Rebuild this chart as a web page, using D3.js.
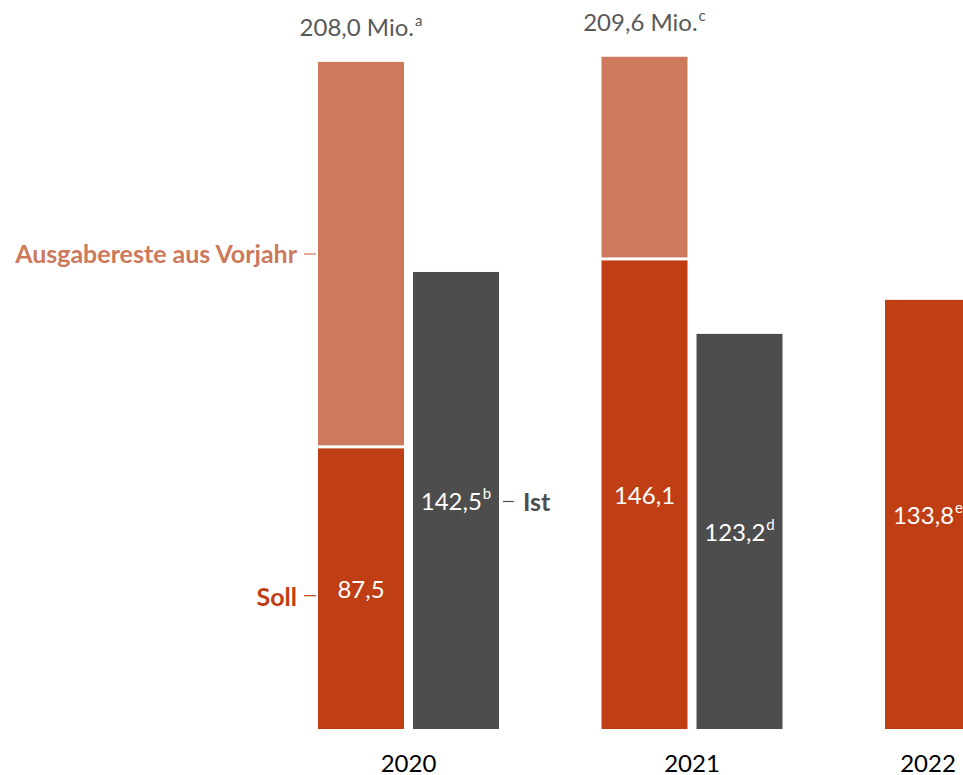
<!DOCTYPE html>
<html>
<head>
<meta charset="utf-8">
<script src="https://cdn.jsdelivr.net/npm/d3@7"></script>
<style>
    body { margin: 0; background: #fff; }
    svg { display: block; font-family: Lato, "Open Sans", sans-serif; }
</style>
</head>
<body>
<svg id="chart" width="963" height="775"></svg>
<script>
// values in Mio. Euro
let years = ["2020", "2021", "2022"];
let soll = [87.5, 146.1, 133.8];
let resteVorjahr = [120.5, 63.5, null];
let ist = [142.5, 123.2, null];
let sollLabels = ["87,5", "146,1", "133,8"];
let sollNotes = ["", "", "e"];
let istLabels = ["142,5", "123,2", null];
let istNotes = ["b", "d", null];
let totalLabels = ["208,0 Mio.", "209,6 Mio.", null];
let totalNotes = ["a", "c", null];

let colors = { soll: "#bf3e13", reste: "#cc795c", ist: "#4d4d4d" };

let svg = d3.select("#chart");
let baseline = 729;

let y = d3.scaleLinear()
    .domain([0, 227.3])
    .range([baseline, 0]);

let x = d3.scaleBand()
    .domain(years)
    .range([318, 318 + 283.5 * 3])
    .paddingInner(0);

let xInner = d3.scaleBand()
    .domain(["soll", "ist"])
    .range([0, 181])
    .paddingInner(0.095);

let bw = xInner.bandwidth();

// add a text with an optional superscript note
function addLabel(g, xPos, yPos, txt, note, color, size, anchor, weight) {
    let t = g.append("text")
        .attr("x", xPos)
        .attr("y", yPos)
        .attr("text-anchor", anchor || "middle")
        .attr("dominant-baseline", "central")
        .attr("fill", color)
        .style("font-size", size + "px")
        .style("font-weight", weight || "normal")
        .text(txt);
    if (note) {
        t.append("tspan")
            .attr("dx", 1)
            .attr("dy", -7)
            .style("font-size", Math.round(size * 0.62) + "px")
            .text(note);
    }
    return t;
}

let g = svg.append("g");

years.forEach(function(yr, i) {
    let xs = x(yr) + xInner("soll");
    let xi = x(yr) + xInner("ist");

    // Soll
    g.append("rect")
        .attr("x", xs)
        .attr("y", y(soll[i]))
        .attr("width", bw)
        .attr("height", baseline - y(soll[i]))
        .attr("fill", colors.soll);

    // Ausgabereste aus Vorjahr, stacked on Soll with a small white gap
    if (resteVorjahr[i] != null) {
        let top = y(soll[i] + resteVorjahr[i]);
        g.append("rect")
            .attr("x", xs)
            .attr("y", top)
            .attr("width", bw)
            .attr("height", y(soll[i]) - top - 3)
            .attr("fill", colors.reste);
        addLabel(g, xs + bw / 2, top - 35, totalLabels[i], totalNotes[i], "#595959", 24);
    }

    addLabel(g, xs + bw / 2, (y(soll[i]) + baseline) / 2, sollLabels[i], sollNotes[i], "#fff", 24);

    // Ist
    if (ist[i] != null) {
        g.append("rect")
            .attr("x", xi)
            .attr("y", y(ist[i]))
            .attr("width", bw)
            .attr("height", baseline - y(ist[i]))
            .attr("fill", colors.ist);
        addLabel(g, xi + bw / 2, (y(ist[i]) + baseline) / 2, istLabels[i], istNotes[i], "#fff", 24);
    }

    // year label centred under the bars of that year
    let right = ist[i] != null ? xi + bw : xs + bw;
    addLabel(g, (xs + right) / 2, 762, yr, null, "#000", 24);
});

// series labels with leader lines
let x0 = x(years[0]) + xInner("soll");
let xIst0 = x(years[0]) + xInner("ist");

g.append("line")
    .attr("x1", x0 - 14).attr("x2", x0 - 2)
    .attr("y1", 254).attr("y2", 254)
    .attr("stroke", colors.reste).attr("stroke-width", 1.2);
addLabel(g, x0 - 21, 253, "Ausgabereste aus Vorjahr", null, colors.reste, 25, "end", "bold");

let sollMid = (y(soll[0]) + baseline) / 2;
g.append("line")
    .attr("x1", x0 - 14).attr("x2", x0 - 2)
    .attr("y1", sollMid + 7).attr("y2", sollMid + 7)
    .attr("stroke", colors.soll).attr("stroke-width", 1.2);
addLabel(g, x0 - 21, sollMid + 7, "Soll", null, colors.soll, 25, "end", "bold");

let istMid = (y(ist[0]) + baseline) / 2;
g.append("line")
    .attr("x1", xIst0 + bw + 4).attr("x2", xIst0 + bw + 15)
    .attr("y1", istMid + 1).attr("y2", istMid + 1)
    .attr("stroke", colors.ist).attr("stroke-width", 1.2);
addLabel(g, xIst0 + bw + 24, istMid + 1, "Ist", null, colors.ist, 25, "start", "bold");
</script>
</body>
</html>
